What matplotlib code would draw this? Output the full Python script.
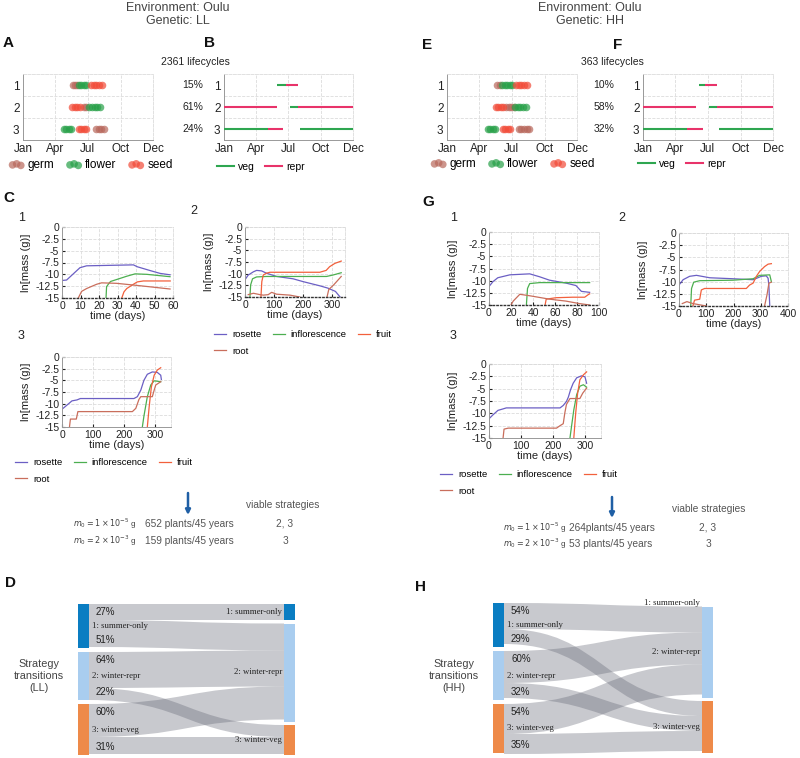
import numpy as np
import matplotlib.pyplot as plt
import matplotlib.transforms as mtransforms
from matplotlib.path import Path
from matplotlib.patches import PathPatch, Rectangle

plt.rcParams['font.family'] = ['Liberation Sans', 'DejaVu Sans']

W, H = 800, 758
nan = np.nan

# ---------------- data ----------------
month_labels = ['Jan', 'Apr', 'Jul', 'Oct', 'Dec']
month_days = [0, 91, 182, 274, 365]
strategies = [1, 2, 3]

# A / E : days of germination, flowering and seed set, per strategy
germ_LL = [[140, 147, 153], [171, 178], [204, 212, 220, 228]]
flower_LL = [[156, 163, 170, 177], [185, 193, 201, 209, 217], [114, 121, 128, 135]]
seed_LL = [[190, 198, 206, 214, 222], [137, 145, 152, 160], [156, 164, 171, 178]]
germ_HH = [[141, 148], [165, 173, 181, 189], [201, 209, 217, 225, 231]]
flower_HH = [[155, 162, 169, 176, 182], [190, 198, 206, 214, 222], [114, 121, 128, 136]]
seed_HH = [[193, 201, 209, 217, 225], [137, 144, 151, 157], [156, 163, 170, 176]]

# B / F : life-cycle phases (start day, end day, phase)
phases_LL = [[(150, 175, 'veg'), (175, 209, 'repr')],
             [(0, 150, 'repr'), (187, 209, 'veg'), (209, 365, 'repr')],
             [(0, 124, 'veg'), (124, 168, 'repr'), (215, 365, 'veg')]]
phases_HH = [[(157, 174, 'veg'), (174, 208, 'repr')],
             [(0, 149, 'repr'), (185, 208, 'veg'), (208, 365, 'repr')],
             [(0, 123, 'veg'), (123, 168, 'repr'), (213, 365, 'veg')]]
share_LL = [15, 61, 24]
share_HH = [10, 58, 32]
n_cycles_LL = 2361
n_cycles_HH = 363

# C / G : ln(mass) trajectories
organs = ['rosette', 'inflorescence', 'fruit', 'root']
mass_ticks = [0, -2.5, -5, -7.5, -10, -12.5, -15]

C1 = {
    'rosette': ([0, 2.5, 9.7, 13.3, 38.6, 40.7, 47.6, 53, 58.4],
                [-11.3, -11.2, -8.6, -8.2, -8.0, -8.4, -9.2, -9.8, -10.1]),
    'inflorescence': ([23.8, 24.1, 25.6, 26.3, 29.5, 35, 39.5, 45.8, 58.4],
                      [-15, -12.6, -11.8, -11.5, -11.1, -10.4, -9.9, -10.0, -10.5]),
    'fruit': ([32.3, 33.5, 35, 38.6, 40.7, 44, 58.5],
              [-15, -13.7, -13.0, -12.1, -11.6, -11.4, -11.4]),
    'root': ([8.8, 10.6, 13.3, 18.7, 21.4, 29.5, 42, 58.4],
             [-15, -13.6, -13.0, -12.1, -11.8, -11.9, -12.4, -13.1]),
}
C2 = {
    'rosette': ([0, 11, 29, 40, 57, 74, 109, 166, 200, 258, 286, 312, 328],
                [-11.3, -10.3, -9.6, -9.3, -9.4, -9.9, -10.6, -11.1, -11.7, -12.6, -13.1, -13.8, -15]),
    'inflorescence': ([17, 19.5, 26, 40, 74, 281, 303, 332],
                      [-15, -12.4, -11.1, -10.7, -10.6, -10.6, -10.3, -9.8]),
    'fruit': ([55, 58, 63, 74, 86, 258, 280, 292, 310, 332],
              [-15, -11.7, -10.3, -9.9, -9.7, -9.7, -9.3, -8.5, -7.8, -7.3]),
    'root': ([11, 29, 52, 63, 80, 92, 109, 155, 189, nan, 283, 289, 306, 332],
             [-14.5, -14.2, -14.5, -14.6, -14.5, -14.0, -14.4, -14.6, -15, nan, -15, -13.4, -12.4, -10.6]),
}
C3 = {
    'rosette': ([0, 16, 32, 48, 59, 231, 242, 253, 263, 274, 290, 306, 317, 319],
                [-11.2, -10.3, -9.4, -9.2, -8.9, -8.9, -8.5, -7.1, -5.0, -3.7, -3.2, -3.3, -3.9, -4.8]),
    'inflorescence': ([258, 263, 274, 285, 296, 317],
                      [-15, -12.7, -8.5, -6.0, -5.1, -5.3]),
    'fruit': ([274, 280, 287, 296, 306, 317],
              [-15, -10.6, -6.4, -3.9, -2.8, -2.3]),
    'root': ([24, 27, 46, 51, 226, 237, 247, 253, 290, 296, 301, 317],
             [-15, -13.3, -13.3, -11.7, -11.7, -11.0, -9.1, -8.5, -8.5, -7.1, -6.0, -5.3]),
}
G1 = {
    'rosette': ([0, 3.6, 8, 19, 37, 46, 55, 70, 79, 84, 91.5],
                [-11.2, -10.2, -9.4, -8.8, -8.6, -9.2, -9.9, -10.5, -11.0, -12.2, -12.4]),
    'inflorescence': ([34, 35, 37, 46, 91.5],
                      [-15, -11.6, -10.6, -10.4, -10.4]),
    'fruit': ([51, 52, 61, 76, 87, 90, 91.5],
              [-15, -13.8, -13.5, -13.4, -13.4, -12.9, -12.7]),
    'root': ([20, 22, 28, 37, 55, 70, 82, 91.5],
             [-15, -14.2, -12.8, -13.1, -13.8, -14.2, -14.7, -15]),
}
G2 = {
    'rosette': ([0, 15, 39, 64, 113, 198, 272, 302, 320, 327, 330, 333],
                [-10.7, -9.6, -8.9, -8.7, -9.2, -9.4, -9.6, -8.9, -8.8, -9.3, -11.0, -15]),
    'inflorescence': ([43, 46, 54, 76, 198, 272, 296, 333, 339],
                      [-15, -11.4, -10.1, -9.8, -9.7, -9.4, -8.7, -8.6, -10.0]),
    'fruit': ([51, 57, 76, 82, 94, 247, 259, 272, 284, 296, 314, 327, 339],
              [-15, -13.8, -13.6, -11.7, -11.4, -11.4, -10.7, -10.3, -8.9, -7.9, -6.9, -6.4, -6.3]),
    'root': ([12, 29, 51, 100, nan, 314, 323, 330, 339],
             [-14.5, -14.1, -14.5, -15, nan, -15, -12.7, -10.3, -10.1]),
}
G3 = {
    'rosette': ([0, 12.5, 28, 44, 54, 222, 232, 242, 248, 255, 263, 274, 289, 300, 305],
                [-11.1, -10.3, -9.4, -9.1, -8.9, -8.9, -8.4, -7.6, -6.7, -5.2, -3.9, -2.8, -2.4, -2.6, -3.9]),
    'inflorescence': ([253, 258, 265, 274, 284, 295, 305],
                      [-15, -12.6, -9.3, -6.2, -4.5, -4.2, -4.7]),
    'fruit': ([265, 271, 277, 284, 295, 305],
              [-15, -9.9, -5.9, -3.2, -2.2, -1.6]),
    'root': ([44, 47, 60, 211, 222, 232, 237, 242, 253, 284, 293, 305],
             [-15, -13.2, -13.0, -13.0, -12.5, -12.1, -9.9, -8.2, -7.0, -7.0, -5.9, -4.9]),
}

# viable-strategy table
table_LL = [(r'$m_0 = 1\times10^{-5}$ g', '652 plants/45 years', '2, 3'),
            (r'$m_0 = 2\times10^{-3}$ g', '159 plants/45 years', '3')]
table_HH = [(r'$m_0 = 1\times10^{-5}$ g', '264plants/45 years', '2, 3'),
            (r'$m_0 = 2\times10^{-3}$ g', '53 plants/45 years', '3')]

# D / H : strategy transitions (source, target, size)
node_names = ['1: summer-only', '2: winter-repr', '3: winter-veg']
left_LL = [44, 48, 51]
right_LL = [16, 98, 30]
flows_LL = [(0, 0, 16), (0, 1, 27), (1, 1, 36), (1, 2, 12), (2, 1, 33), (2, 2, 17)]
pct_LL = [(27, 51), (64, 22), (60, 31)]
left_HH = [44, 49, 49]
right_HH = [0, 91, 52]
flows_HH = [(0, 1, 26), (0, 2, 15), (1, 1, 32), (1, 2, 15), (2, 1, 30), (2, 2, 20)]
pct_HH = [(54, 29), (60, 32), (54, 35)]

# ---------------- style ----------------
c_germ, c_flower, c_seed = '#b8685c', '#27a048', '#f24b38'
phase_colors = {'veg': '#2ea650', 'repr': '#e8336a'}
organ_colors = {'rosette': '#6b5fc4', 'inflorescence': '#4caf50',
                'fruit': '#f2603c', 'root': '#c96e5c'}
node_colors = ['#0a7dc2', '#a9cdef', '#ee8a49']
grid_kw = dict(ls='--', color='#dcdcdc', lw=0.6)
txt = '#222222'

fig = plt.figure(figsize=(8, 7.58), dpi=100)
ov = fig.add_axes([0, 0, 1, 1], zorder=5)
ov.set_xlim(0, W)
ov.set_ylim(H, 0)
ov.axis('off')


def pax(x0, y0, x1, y1):
    return fig.add_axes([x0 / W, 1 - y1 / H, (x1 - x0) / W, (y1 - y0) / H])


def frame(ax):
    for s in ['top', 'right']:
        ax.spines[s].set(ls='--', color='#dcdcdc', lw=0.6)
    for s in ['left', 'bottom']:
        ax.spines[s].set(color='#999999', lw=0.7)


def year_axes(ax):
    ax.set_xlim(0, 365)
    ax.set_ylim(3.5, 0.5)
    ax.set_xticks(month_days)
    ax.set_xticklabels(month_labels)
    ax.set_yticks(strategies)
    ax.set_yticks([1.5, 2.5], minor=True)
    ax.grid(True, axis='x', **grid_kw)
    ax.grid(True, axis='y', which='minor', **grid_kw)
    ax.tick_params(which='both', length=0, labelsize=8.5, pad=2.5, colors=txt)
    frame(ax)


def events_panel(ax, germ, flower, seed, leg_xy):
    handles = []
    for events, col, lab in [(germ, c_germ, 'germ'), (flower, c_flower, 'flower'),
                             (seed, c_seed, 'seed')]:
        for i, days in enumerate(events):
            h = ax.scatter(days, [strategies[i]] * len(days), s=30, color=col,
                           alpha=0.7, lw=0, zorder=3, label=lab if i == 0 else None)
            if i == 0:
                handles.append(h)
    year_axes(ax)
    ax.legend(handles=handles, loc='center left', bbox_to_anchor=leg_xy,
              bbox_transform=ov.transData, ncol=3, frameon=False, fontsize=8.5,
              scatterpoints=3, handlelength=1.3, handletextpad=0.3,
              columnspacing=1.0, borderpad=0, borderaxespad=0)


def phase_panel(ax, phases, share, n_cycles, pct_x, title_x, leg_xy):
    for i, segs in enumerate(phases):
        for a, b, ph in segs:
            ax.plot([a, b], [strategies[i]] * 2, color=phase_colors[ph], lw=1.5,
                    solid_capstyle='butt', zorder=3)
    year_axes(ax)
    tr = mtransforms.blended_transform_factory(ov.transData, ax.transData)
    for i, p in enumerate(share):
        fig.text(pct_x, strategies[i], f'{p}%', transform=tr, ha='center',
                 va='center', fontsize=7.5, color=txt)
    ov.text(title_x, 62, f'{n_cycles} lifecycles', ha='center', va='center',
            fontsize=7.5, color=txt)
    hs = [plt.Line2D([], [], color=phase_colors[k], lw=1.5) for k in ['veg', 'repr']]
    ax.legend(hs, ['veg', 'repr'], loc='center left', bbox_to_anchor=leg_xy,
              bbox_transform=ov.transData, ncol=2, frameon=False, fontsize=7.5,
              handlelength=1.6, handletextpad=0.4, columnspacing=1.0,
              borderpad=0, borderaxespad=0)


def mass_panel(ax, curves, xmax, xticks, dotted, leg_xy=None):
    lines = {}
    for org in organs:
        t, y = curves[org]
        lines[org], = ax.plot(t, y, color=organ_colors[org], lw=0.9)
    ax.set_xlim(0, xmax)
    ax.set_ylim(-15, 0)
    ax.set_xticks(xticks)
    ax.set_yticks(mass_ticks)
    ax.set_yticklabels(['0', '-2.5', '-5', '-7.5', '-10', '-12.5', '-15'])
    ax.grid(True, **grid_kw)
    ax.tick_params(direction='in', length=2, labelsize=7.5, pad=2, colors=txt)
    frame(ax)
    if dotted:
        ax.spines['bottom'].set(ls=':', color='#333333', lw=1.0)
    ax.set_ylabel('ln[mass (g)]', fontsize=8, labelpad=3, color=txt)
    ax.set_xlabel('time (days)', fontsize=8, labelpad=0, color=txt)
    if leg_xy is not None:
        order = ['rosette', 'root', 'inflorescence', 'fruit']
        ax.legend([lines[o] for o in order], order, loc='upper left',
                  bbox_to_anchor=leg_xy, bbox_transform=ov.transData, ncol=3,
                  frameon=False, fontsize=6.8, handlelength=1.3, handletextpad=0.6,
                  columnspacing=1.2, labelspacing=0.8, borderpad=0, borderaxespad=0)


def sankey(left, right, flows, pct, xl, xr, top, label):
    nw = 11
    gl, gr = 4, 3.5
    # node positions from sizes
    ly = np.concatenate([[top], top + np.cumsum(np.array(left) + gl)[:-1]])
    ry = np.concatenate([[top], top + np.cumsum(np.array(right) + gr)[:-1]])
    for i in range(3):
        ov.add_patch(Rectangle((xl, ly[i]), nw, left[i], color=node_colors[i], lw=0, zorder=3))
        if right[i] > 0:
            ov.add_patch(Rectangle((xr, ry[i]), nw, right[i], color=node_colors[i], lw=0, zorder=3))
    lpos = list(ly)
    rpos = list(ry)
    x0, x1 = xl + nw, xr
    xm = (x0 + x1) / 2
    # outgoing stacked by target order, incoming stacked by source order
    out_off = {}
    for s, t, v in sorted(flows, key=lambda f: (f[0], f[1])):
        out_off[(s, t)] = lpos[s]
        lpos[s] += v
    for s, t, v in sorted(flows, key=lambda f: (f[1], f[0])):
        a = out_off[(s, t)]
        b = rpos[t]
        rpos[t] += v
        verts = [(x0, a), (xm, a), (xm, b), (x1, b), (x1, b + v),
                 (xm, b + v), (xm, a + v), (x0, a + v), (x0, a)]
        codes = [Path.MOVETO, Path.CURVE4, Path.CURVE4, Path.CURVE4, Path.LINETO,
                 Path.CURVE4, Path.CURVE4, Path.CURVE4, Path.CLOSEPOLY]
        ov.add_patch(PathPatch(Path(verts, codes), facecolor='#626573', alpha=0.35,
                               lw=0, zorder=2))
    for i in range(3):
        ov.text(xl + nw + 3, ly[i] + left[i] / 2, node_names[i], family='Liberation Serif',
                fontsize=6.3, va='center', ha='left', color=txt, zorder=4)
        ov.text(xl + nw + 7, ly[i] + 8, f'{pct[i][0]}%', fontsize=7, va='center',
                ha='left', color=txt, zorder=4)
        ov.text(xl + nw + 7, ly[i] + left[i] - 8, f'{pct[i][1]}%', fontsize=7,
                va='center', ha='left', color=txt, zorder=4)
        ov.text(xr - 2, ry[i] + right[i] / 2, node_names[i], family='Liberation Serif',
                fontsize=6.3, va='center', ha='right', color=txt, zorder=4)
    ov.text(xl - 39, 676, f'Strategy\ntransitions\n({label})', ha='center', va='center',
            fontsize=7.8, color='#444444', linespacing=1.2)


def table(rows, x_m, x_n, x_v, y_rows, arrow_x, arrow_y, head_xy):
    ov.annotate('', xy=(arrow_x, arrow_y[1]), xytext=(arrow_x, arrow_y[0]),
                arrowprops=dict(arrowstyle='-|>', color='#1f5fa5', lw=1.8,
                                mutation_scale=7, shrinkA=0, shrinkB=0))
    ov.text(head_xy[0], head_xy[1], 'viable strategies', ha='center', va='center',
            fontsize=7.3, color='#555555')
    for (m, n, v), y in zip(rows, y_rows):
        ov.text(x_m, y, m, ha='left', va='center', fontsize=5.8, color='#444444')
        ov.text(x_n, y, n, ha='left', va='center', fontsize=7.3, color='#555555')
        ov.text(x_v, y, v, ha='center', va='center', fontsize=7.3, color='#555555')


# ---------------- LL column ----------------
ov.text(178, 8, 'Environment: Oulu', ha='center', va='center', fontsize=9, color='#444444')
ov.text(178, 21, 'Genetic: LL', ha='center', va='center', fontsize=9, color='#444444')
ax = pax(23, 74, 153, 140)
events_panel(ax, germ_LL, flower_LL, seed_LL, (9, 165))
ax = pax(224, 74, 353, 140)
phase_panel(ax, phases_LL, share_LL, n_cycles_LL, 193, 195, (217, 167))

ax = pax(62, 227, 173, 298)
mass_panel(ax, C1, 60, [0, 10, 20, 30, 40, 50, 60], True)
ax = pax(245, 227, 345, 297)
mass_panel(ax, C2, 345, [0, 100, 200, 300], True, (214, 330))
ax = pax(62, 357, 171, 427)
mass_panel(ax, C3, 350, [0, 100, 200, 300], False, (15, 458))

table(table_LL, 73, 145, 285, [524, 541], 188, (493, 515), (283, 505))
sankey(left_LL, right_LL, flows_LL, pct_LL, 78, 284, 604, 'LL')

# ---------------- HH column ----------------
ov.text(590, 8, 'Environment: Oulu', ha='center', va='center', fontsize=9, color='#444444')
ov.text(590, 21, 'Genetic: HH', ha='center', va='center', fontsize=9, color='#444444')
ax = pax(447, 74, 577, 140)
events_panel(ax, germ_HH, flower_HH, seed_HH, (431, 164))
ax = pax(643, 74, 773, 140)
phase_panel(ax, phases_HH, share_HH, n_cycles_HH, 604, 612, (638, 164))

ax = pax(489, 232, 599, 305)
mass_panel(ax, G1, 100, [0, 20, 40, 60, 80, 100], True)
ax = pax(679, 233, 788, 306)
mass_panel(ax, G2, 400, [0, 100, 200, 300, 400], True)
ax = pax(489, 364, 601, 438)
mass_panel(ax, G3, 350, [0, 100, 200, 300], False, (440, 470))

table(table_HH, 503, 569, 708, [528, 544], 612, (497, 518), (709, 509))
sankey(left_HH, right_HH, flows_HH, pct_HH, 493, 702, 603, 'HH')

# ---------------- panel letters and sub-numbers ----------------
for s, x, y in [('A', 3, 43), ('B', 204, 43), ('E', 422, 45), ('F', 613, 45),
                ('C', 3, 198), ('G', 422, 202), ('D', 5, 583), ('H', 415, 587)]:
    ov.text(x, y, s, fontsize=11, fontweight='bold', ha='left', va='center', color='#111111')
for s, x, y in [('1', 18, 218), ('2', 190, 211), ('3', 18, 336),
                ('1', 450, 218), ('2', 618, 218), ('3', 450, 336)]:
    ov.text(x, y, s, fontsize=9, ha='left', va='center', color=txt)

fig.savefig('out.png', dpi=100)
